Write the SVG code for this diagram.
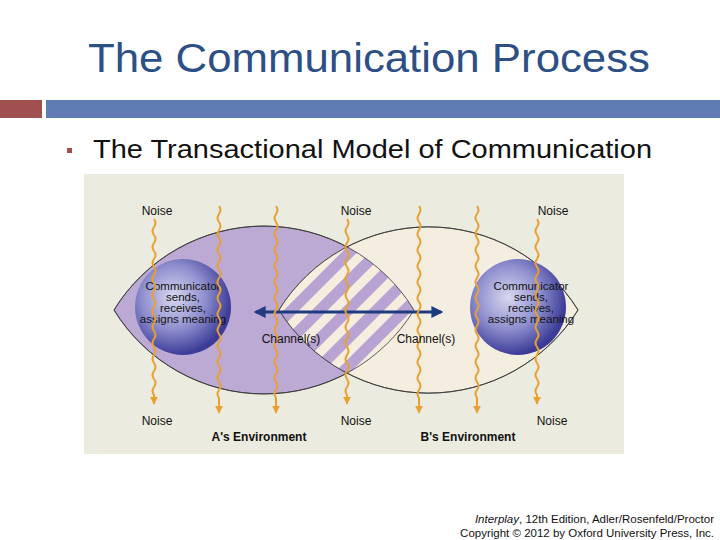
<svg xmlns="http://www.w3.org/2000/svg" width="720" height="540" viewBox="0 0 720 540">
<style>
.t{font-family:"Liberation Sans",Arial,sans-serif;fill:#111}
.n{font-size:12px;text-anchor:middle}
.c{font-size:11.5px;text-anchor:middle}
.w{fill:none;stroke:#e8a030;stroke-width:2}
.lens{stroke:#333;stroke-width:0.8}
</style>
<defs>
<marker id="ah" viewBox="0 0 10 10" refX="9" refY="5" markerWidth="4" markerHeight="4" orient="auto"><path d="M0,0L10,5L0,10z" fill="#e8a030"/></marker>
<marker id="bh" viewBox="0 0 10 10" refX="8" refY="5" markerWidth="4" markerHeight="4" orient="auto-start-reverse"><path d="M0,0L10,5L0,10z" fill="#1e3a80"/></marker>
<radialGradient id="sph" cx="0.4" cy="0.4" r="0.6"><stop offset="0" stop-color="#d8d8f0"/><stop offset="0.55" stop-color="#8f8fcf"/><stop offset="1" stop-color="#3c3c98"/></radialGradient>
<pattern id="hat" width="20" height="20" patternUnits="userSpaceOnUse" patternTransform="rotate(45)"><rect width="20" height="20" fill="#f5eedf"/><rect width="11" height="20" fill="#b9a3d3"/></pattern>
<clipPath id="cl"><path d="M114,310A176,176 0 0 1 414,310A176,176 0 0 1 114,310Z"/></clipPath>
<clipPath id="cr"><path d="M279,310A176,176 0 0 1 578,310A176,176 0 0 1 279,310Z"/></clipPath>
</defs>
<rect width="720" height="540" fill="#fff"/>
<text x="88" y="72" textLength="562" lengthAdjust="spacingAndGlyphs" font-family="Liberation Sans,Arial,sans-serif" font-size="40" fill="#2c4f86">The Communication Process</text>
<rect x="0" y="100" width="42" height="18" fill="#a0504f"/>
<rect x="46" y="100" width="674" height="18" fill="#5f7cb5"/>
<rect x="67" y="148" width="5" height="5" fill="#a0504f"/>
<text x="93" y="158" class="t" font-size="26" textLength="559" lengthAdjust="spacingAndGlyphs">The Transactional Model of Communication</text>
<rect x="84" y="174" width="540" height="280" fill="#ecebe0"/>
<g id="lensA"><path class="lens" d="M114,310A176,176 0 0 1 414,310A176,176 0 0 1 114,310Z" fill="#bca9d4"/></g>
<g id="lensB"><path class="lens" d="M279,310A176,176 0 0 1 578,310A176,176 0 0 1 279,310Z" fill="#f4eee0"/></g>
<g id="overlap" clip-path="url(#cl)"><rect x="270" y="220" width="160" height="180" fill="url(#hat)" clip-path="url(#cr)"/></g>
<path d="M114,310A176,176 0 0 1 414,310A176,176 0 0 1 114,310Z" fill="none" class="lens"/>
<path d="M279,310A176,176 0 0 1 578,310A176,176 0 0 1 279,310Z" fill="none" class="lens"/>
<g id="commA"><circle cx="183" cy="307" r="48" fill="url(#sph)"/>
<text class="t c" x="183" y="290">Communicator</text><text class="t c" x="183" y="301">sends,</text><text class="t c" x="183" y="312">receives,</text><text class="t c" x="183" y="323">assigns meaning</text></g>
<g id="commB"><circle cx="518" cy="307" r="48" fill="url(#sph)"/>
<text class="t c" x="531" y="290">Communicator</text><text class="t c" x="531" y="301">sends,</text><text class="t c" x="531" y="312">receives,</text><text class="t c" x="531" y="323">assigns meaning</text></g>
<g id="connectors">
<line x1="256" y1="312" x2="441" y2="312" stroke="#1e3a80" stroke-width="3" marker-start="url(#bh)" marker-end="url(#bh)"/>
<g id="noise">
<path class="w" marker-end="url(#ah)" d="M154,219q3,4 0,8t0,8t0,8t0,8t0,8t0,8t0,8t0,8t0,8t0,8t0,8t0,8t0,8t0,8t0,8t0,8t0,8t0,8t0,8t0,8t0,8t0,8V404"/>
<path class="w" marker-end="url(#ah)" d="M219,206q3,4 0,8t0,8t0,8t0,8t0,8t0,8t0,8t0,8t0,8t0,8t0,8t0,8t0,8t0,8t0,8t0,8t0,8t0,8t0,8t0,8t0,8t0,8t0,8t0,8V413"/>
<path class="w" marker-end="url(#ah)" d="M276,206q3,4 0,8t0,8t0,8t0,8t0,8t0,8t0,8t0,8t0,8t0,8t0,8t0,8t0,8t0,8t0,8t0,8t0,8t0,8t0,8t0,8t0,8t0,8t0,8t0,8V413"/>
<path class="w" marker-end="url(#ah)" d="M347,219q3,4 0,8t0,8t0,8t0,8t0,8t0,8t0,8t0,8t0,8t0,8t0,8t0,8t0,8t0,8t0,8t0,8t0,8t0,8t0,8t0,8t0,8t0,8V404"/>
<path class="w" marker-end="url(#ah)" d="M419,206q3,4 0,8t0,8t0,8t0,8t0,8t0,8t0,8t0,8t0,8t0,8t0,8t0,8t0,8t0,8t0,8t0,8t0,8t0,8t0,8t0,8t0,8t0,8t0,8t0,8V413"/>
<path class="w" marker-end="url(#ah)" d="M477,206q3,4 0,8t0,8t0,8t0,8t0,8t0,8t0,8t0,8t0,8t0,8t0,8t0,8t0,8t0,8t0,8t0,8t0,8t0,8t0,8t0,8t0,8t0,8t0,8t0,8V413"/>
<path class="w" marker-end="url(#ah)" d="M537,219q3,4 0,8t0,8t0,8t0,8t0,8t0,8t0,8t0,8t0,8t0,8t0,8t0,8t0,8t0,8t0,8t0,8t0,8t0,8t0,8t0,8t0,8t0,8V404"/>
</g></g>
<g id="labels">
<text class="t n" x="157" y="215">Noise</text><text class="t n" x="356" y="215">Noise</text><text class="t n" x="553" y="215">Noise</text>
<text class="t n" x="157" y="425">Noise</text><text class="t n" x="356" y="425">Noise</text><text class="t n" x="552" y="425">Noise</text>
<text class="t n" x="291" y="343">Channel(s)</text><text class="t n" x="426" y="343">Channel(s)</text>
<text class="t n" x="259" y="441" font-weight="bold">A's Environment</text>
<text class="t n" x="468" y="441" font-weight="bold">B's Environment</text>
</g>
<text class="t" x="714" y="523" font-size="11.5" text-anchor="end"><tspan font-style="italic">Interplay</tspan>, 12th Edition, Adler/Rosenfeld/Proctor</text>
<text class="t" x="714" y="537" font-size="11.5" text-anchor="end">Copyright © 2012 by Oxford University Press, Inc.</text>
</svg>
